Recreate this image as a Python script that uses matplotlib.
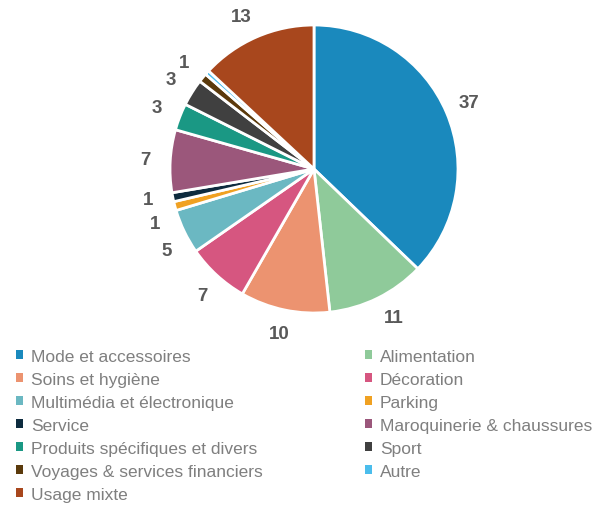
import numpy as np
import matplotlib
matplotlib.use("Agg")
import matplotlib.pyplot as plt
from matplotlib.patches import Patch

plt.rcParams['font.family'] = ['Liberation Sans', 'DejaVu Sans']

# Data (share of shops, %)
categories = [
    "Mode et accessoires", "Alimentation", "Soins et hygiène", "Décoration",
    "Multimédia et électronique", "Parking", "Service", "Maroquinerie & chaussures",
    "Produits spécifiques et divers", "Sport", "Voyages & services financiers",
    "Autre", "Usage mixte",
]
values = [37, 11, 10, 7, 5, 1, 1, 7, 3, 3, 1, 0.5, 13]
value_labels = ["37", "11", "10", "7", "5", "1", "1", "7", "3", "3", "1", "", "13"]
colors = [
    "#1a89bd", "#8fca9a", "#ec9370", "#d65680", "#6bb8c2", "#f0a122", "#0d2b3e",
    "#9b577b", "#1a9884", "#404040", "#5b3a0c", "#4bbdec", "#a8471d",
]
# small angular nudges (deg) so the labels of thin slices do not collide
label_nudge = [0, 2, 0, 1, 3, 4, -1, 0, 0, 0, 0, 0, 2]

fig = plt.figure(figsize=(6.05, 5.10), dpi=100)

# Pie axes: centre ~ (314, 170) px, radius ~ 144 px
ax = fig.add_axes([170 / 605, 1 - 314 / 510, 288 / 605, 288 / 510])
wedges, _ = ax.pie(
    values,
    colors=colors,
    startangle=90,
    counterclock=False,
    wedgeprops=dict(edgecolor="white", linewidth=2),
)
ax.set_xlim(-1, 1)
ax.set_ylim(-1, 1)
ax.set_aspect("equal")

# Value labels outside the slices
for w, lab, nudge in zip(wedges, value_labels, label_nudge):
    if not lab:
        continue
    ang = np.deg2rad((w.theta1 + w.theta2) / 2 + nudge)
    r = 1.17
    ax.text(r * np.cos(ang), r * np.sin(ang), lab,
            ha="center", va="center", fontsize=13.5, fontweight="bold",
            color="#595959")

# Legend in two columns (row-wise order)
handles = [Patch(facecolor=c, edgecolor="none") for c in colors]
left_idx = list(range(0, len(categories), 2))
right_idx = list(range(1, len(categories), 2))

legend_kw = dict(
    frameon=False, fontsize=12.5, labelcolor="#7f7f7f",
    handlelength=0.4, handleheight=0.4, handletextpad=0.45,
    labelspacing=0.46, borderpad=0, borderaxespad=0,
)
leg1 = fig.legend([handles[i] for i in left_idx], [categories[i] for i in left_idx],
                  loc="upper left", bbox_to_anchor=(16 / 605, 1 - 350 / 510), **legend_kw)
leg2 = fig.legend([handles[i] for i in right_idx], [categories[i] for i in right_idx],
                  loc="upper left", bbox_to_anchor=(365 / 605, 1 - 350 / 510), **legend_kw)

fig.savefig("out.png", dpi=100)
